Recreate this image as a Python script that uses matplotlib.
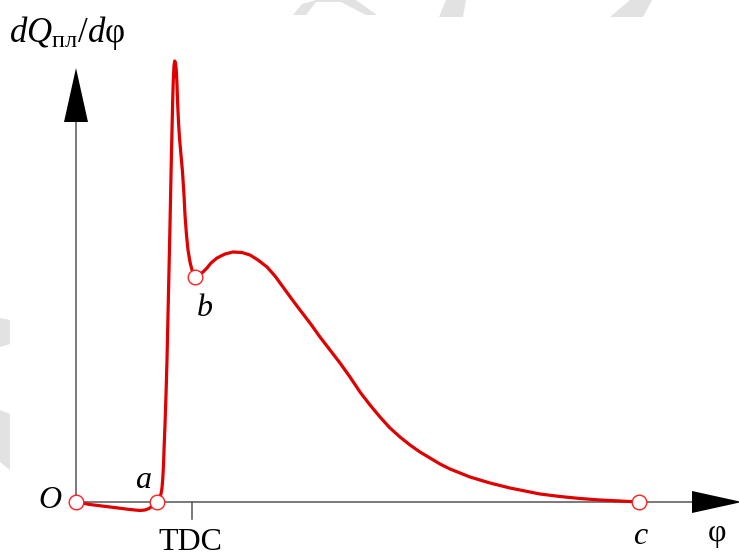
import matplotlib

matplotlib.use("Agg")
import matplotlib.pyplot as plt
from matplotlib.patches import Polygon

plt.rcParams["font.family"] = ["Liberation Serif", "DejaVu Serif"]
plt.rcParams["mathtext.fontset"] = "custom"
plt.rcParams["mathtext.rm"] = "Liberation Serif"
plt.rcParams["mathtext.it"] = "Liberation Serif:italic"

# heat release rate vs crank angle (units: drawing px from origin O)
phi = [0, 14, 34, 54, 64, 69, 73, 77, 81,
       83.5, 85, 86, 86.8, 87.5, 88.2, 89, 90, 91, 92, 93, 94, 95, 96, 96.7,
       97.3, 98, 98.7,
       99.5, 100.3, 101, 101.7, 102.5, 103.5, 105, 106.5, 108, 109, 110.5,
       112, 114, 116, 119,
       123, 127, 131, 135, 141, 149, 157, 166, 174, 182, 191, 199, 207, 215,
       224, 234, 244, 254, 264, 274, 284, 294, 304, 314, 324, 334, 344, 354,
       364, 374, 384, 394, 404, 414, 424, 434, 444, 464, 484, 504, 524, 544,
       563]
dq = [0, -2.5, -5, -7.5, -8.5, -8, -6.5, -3.5, 0,
      4, 8, 14, 24, 37, 57, 77, 107, 142, 187, 232, 277, 327, 372, 402,
      422, 436, 441,
      439, 432, 417, 397, 380, 364, 347, 330, 307, 287, 267, 252, 240, 232,
      225,
      227, 230, 234, 239, 244, 248, 250, 249.5, 247, 242, 235, 226, 215, 204,
      192, 179, 165, 152, 139, 125, 110, 97, 85, 74, 65, 57, 50, 44,
      38, 33, 29, 25, 22, 19, 16.5, 14, 12, 8, 5.5, 3.5, 2, 1, 0]

# marked points O, a, b, c
pt_phi = [0, 81, 119, 563]
pt_dq = [0, 0, 225, 0]

tdc_phi = 116

fig = plt.figure(figsize=(7.39, 5.56), dpi=100)
ax = fig.add_axes([0, 0, 1, 1])
ax.set_xlim(-76, 663)
ax.set_ylim(-54, 502)
ax.axis("off")

# faint background shapes
wm = "#e2e2e2"
for poly in [
    [(217, 487), (226, 498), (240, 502), (260, 502), (280, 502), (301, 487),
     (290, 487), (265, 500), (240, 500), (230, 487)],
    [(363, 485), (370, 502), (390, 502), (387, 485)],
    [(534, 485), (554, 502), (576, 502), (567, 485)],
    [(-76, 155), (-66, 158), (-66, 182), (-76, 184)],
    [(-76, 40), (-66, 32), (-66, 88), (-76, 92)],
]:
    ax.add_patch(Polygon(poly, closed=True, fc=wm, ec="none", zorder=0))

axis_col = "#555555"
ax.plot([0, 0], [0, 390], color=axis_col, lw=1.1, zorder=1)
ax.plot([0, 620], [0, 0], color=axis_col, lw=1.1, zorder=1)
ax.plot([tdc_phi, tdc_phi], [0, -17], color=axis_col, lw=1.1, zorder=1)
ax.add_patch(Polygon([(-12, 380), (12, 380), (0, 434)], closed=True,
                     fc="black", ec="none", zorder=2))
ax.add_patch(Polygon([(616, 11), (616, -11), (666, 0)], closed=True,
                     fc="black", ec="none", zorder=2))

ax.plot(phi, dq, color="#e00000", lw=2.3, solid_joinstyle="round",
        solid_capstyle="round", zorder=3)
ax.plot(pt_phi, pt_dq, ls="none", marker="o", ms=10.5, mfc="white",
        mec="#ff2020", mew=1.0, zorder=4)

fs = 23
ax.text(-26, 2, "O", style="italic", fontsize=fs, ha="center", va="center")
ax.text(67, 22, "a", style="italic", fontsize=fs, ha="center", va="center")
ax.text(129, 194, "b", style="italic", fontsize=fs, ha="center", va="center")
ax.text(564, -35, "c", style="italic", fontsize=fs, ha="center", va="center")
ax.text(641, -31, "φ", fontsize=fs, ha="center", va="center")
ax.text(114, -41, "TDC", fontsize=fs, ha="center", va="center")
ax.text(-67, 460, r"$dQ_{\mathrm{пл}}/d\mathrm{φ}$", fontsize=25,
        ha="left", va="baseline")

fig.savefig("out.png", dpi=100)
